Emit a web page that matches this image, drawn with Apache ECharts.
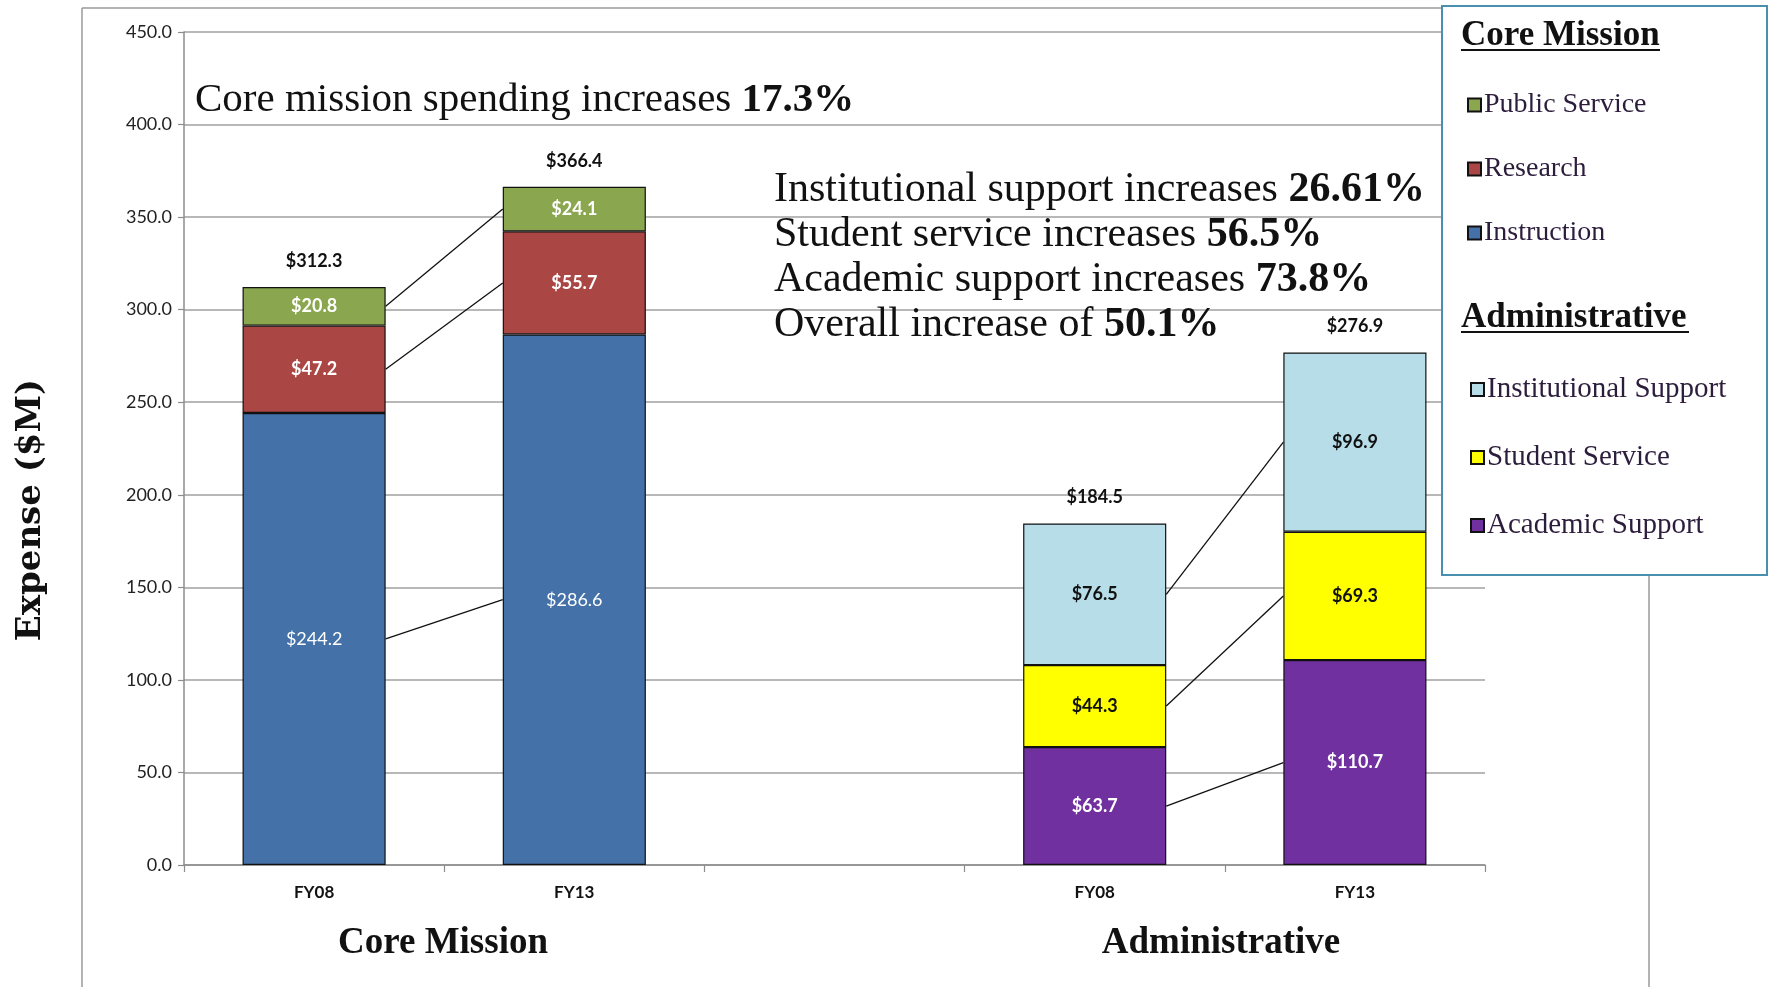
<!DOCTYPE html>
<html>
<head>
<meta charset="utf-8">
<script src="https://cdn.jsdelivr.net/npm/echarts@6/dist/echarts.min.js"></script>
<style>
html,body{margin:0;padding:0;background:#fff;}
#chart{width:1769px;height:987px;}
</style>
</head>
<body>
<div id="chart"></div>
<script>
// ---- data ----
var categories = ['FY08', 'FY13', '', 'FY08', 'FY13'];
var instruction = [244.2, 286.6, null, null, null];
var research = [47.2, 55.7, null, null, null];
var publicService = [20.8, 24.1, null, null, null];
var academicSupport = [null, null, null, 63.7, 110.7];
var studentService = [null, null, null, 44.3, 69.3];
var institutionalSupport = [null, null, null, 76.5, 96.9];
var totals = [312.3, 366.4, null, 184.5, 276.9];
var yTicks = { min: 0, max: 450, interval: 50 };

var BAR_RATIO = 0.55;
var labelFont = 'Lato, "Open Sans", sans-serif';
var serif = '"Liberation Serif", "DejaVu Serif", serif';

function fmt(v) { return '$' + Number(v).toFixed(1); }

function barSeries(name, data, color, labelColor, bold) {
  return {
    name: name, type: 'bar', stack: 'all', data: data,
    barWidth: (BAR_RATIO * 100) + '%',
    itemStyle: { color: color, borderColor: '#111', borderWidth: 1.2 },
    label: {
      show: true, position: 'inside', color: labelColor,
      fontFamily: labelFont, fontSize: 18, fontWeight: bold ? 'bold' : 'normal',
      formatter: function (p) { return p.value == null ? '' : fmt(p.value); }
    },
    z: 2
  };
}

// connector lines between FY08 and FY13 segment midpoints
function mids(lists) {
  var out = [];
  var base = [0, 0, 0, 0, 0];
  lists.forEach(function (arr) {
    var m = arr.map(function (v, i) { return v == null ? null : base[i] + v / 2; });
    arr.forEach(function (v, i) { if (v != null) base[i] += v; });
    out.push(m);
  });
  return out;
}
var coreMids = mids([instruction, research, publicService]);
var adminMids = mids([academicSupport, studentService, institutionalSupport]);
var connectors = [];
coreMids.forEach(function (m) { connectors.push([0, m[0], 1, m[1]]); });
adminMids.forEach(function (m) { connectors.push([3, m[3], 4, m[4]]); });

var totalData = [];
totals.forEach(function (v, i) { if (v != null) totalData.push([i, v]); });

var chart = echarts.init(document.getElementById('chart'), null, { renderer: 'canvas' });

function legendText(x, y, txt) {
  return { type: 'text', x: x, y: y, z: 10,
    style: { text: txt, font: 'bold 35px ' + serif, fill: '#111', align: 'left', verticalAlign: 'middle', textAlign: 'left', textVerticalAlign: 'middle' } };
}
function annot(x, y, a, b, size) {
  return { type: 'text', x: x, y: y, z: 10,
    style: {
      text: '{a|' + a + '}{b|' + b + '}',
      align: 'left', verticalAlign: 'middle', textAlign: 'left', textVerticalAlign: 'middle',
      rich: {
        a: { fontFamily: serif, fontSize: size, fontWeight: 'normal', fill: '#111', color: '#111' },
        b: { fontFamily: serif, fontSize: size, fontWeight: 'bold', fill: '#111', color: '#111' }
      }
    } };
}

var option = {
  animation: false,
  backgroundColor: '#fff',
  grid: { left: 184, right: 284, top: 32, bottom: 122, containLabel: false },
  xAxis: {
    type: 'category', data: categories,
    axisLine: { lineStyle: { color: '#8c8c8c', width: 1.5 } },
    axisTick: { show: true, length: 7, lineStyle: { color: '#8c8c8c', width: 1.2 } },
    axisLabel: { color: '#111', fontFamily: labelFont, fontSize: 17, fontWeight: 'bold', margin: 19 },
    splitLine: { show: false }
  },
  yAxis: {
    type: 'value', min: yTicks.min, max: yTicks.max, interval: yTicks.interval,
    axisLine: { show: true, lineStyle: { color: '#8c8c8c', width: 1.5 } },
    axisTick: { show: true, length: 6, lineStyle: { color: '#8c8c8c', width: 1.2 } },
    axisLabel: { color: '#222', fontFamily: labelFont, fontSize: 18, margin: 12,
      formatter: function (v) { return v.toFixed(1); } },
    splitLine: { show: true, lineStyle: { color: '#a0a0a0', width: 1.5 } }
  },
  legend: [
    { data: ['Public Service', 'Research', 'Instruction'], orient: 'vertical',
      left: 1462, top: 86, itemGap: 36, itemWidth: 13, itemHeight: 13, icon: 'rect',
      selectedMode: false, z: 12,
      textStyle: { fontFamily: serif, fontSize: 28, color: '#2d1d3d', padding: [0, 0, 0, -2] } },
    { data: ['Institutional Support', 'Student Service', 'Academic Support'], orient: 'vertical',
      left: 1465, top: 370, itemGap: 39, itemWidth: 13, itemHeight: 13, icon: 'rect',
      selectedMode: false, z: 12,
      textStyle: { fontFamily: serif, fontSize: 29, color: '#2d1d3d', padding: [0, 0, 0, -2] } }
  ],
  graphic: [
    // frame lines
    { type: 'line', z: 1, shape: { x1: 82, y1: 8, x2: 82, y2: 987 }, style: { stroke: '#9a9a9a', lineWidth: 1.5 } },
    { type: 'line', z: 1, shape: { x1: 82, y1: 8, x2: 1442, y2: 8 }, style: { stroke: '#9a9a9a', lineWidth: 1.5 } },
    { type: 'line', z: 1, shape: { x1: 1649, y1: 575, x2: 1649, y2: 987 }, style: { stroke: '#9a9a9a', lineWidth: 1.5 } },
    // legend box
    { type: 'rect', z: 8, shape: { x: 1442, y: 6, width: 325, height: 569 },
      style: { fill: '#fff', stroke: '#4a8fb0', lineWidth: 2 } },
    legendText(1461, 36, 'Core Mission'),
    { type: 'line', z: 10, shape: { x1: 1461, y1: 50, x2: 1660, y2: 50 }, style: { stroke: '#111', lineWidth: 2 } },
    legendText(1461, 318, 'Administrative'),
    { type: 'line', z: 10, shape: { x1: 1461, y1: 332, x2: 1689, y2: 332 }, style: { stroke: '#111', lineWidth: 2 } },
    // annotations
    annot(195, 100, 'Core mission spending increases ', '17.3%', 41),
    annot(774, 190, 'Institutional support increases ', '26.61%', 42),
    annot(774, 235, 'Student service increases ', '56.5%', 42),
    annot(774, 280, 'Academic support increases ', '73.8%', 42),
    annot(774, 325, 'Overall increase of ', '50.1%', 42),
    // axis title
    { type: 'text', x: 31, y: 510, rotation: Math.PI / 2, z: 10,
      style: { text: 'Expense ($M)', font: 'bold 34px "DejaVu Serif", serif', fill: '#111',
        align: 'center', verticalAlign: 'middle', textAlign: 'center', textVerticalAlign: 'middle' } },
    // group labels
    { type: 'text', x: 443, y: 943, z: 10,
      style: { text: 'Core Mission', font: 'bold 37px ' + serif, fill: '#111',
        align: 'center', verticalAlign: 'middle', textAlign: 'center', textVerticalAlign: 'middle' } },
    { type: 'text', x: 1221, y: 943, z: 10,
      style: { text: 'Administrative', font: 'bold 37px ' + serif, fill: '#111',
        align: 'center', verticalAlign: 'middle', textAlign: 'center', textVerticalAlign: 'middle' } }
  ],
  series: [
    barSeries('Instruction', instruction, '#4472A8', '#ffffff', false),
    barSeries('Research', research, '#AA4643', '#ffffff', true),
    barSeries('Public Service', publicService, '#8AA64F', '#ffffff', true),
    barSeries('Academic Support', academicSupport, '#7030A0', '#ffffff', true),
    barSeries('Student Service', studentService, '#FFFF00', '#111111', true),
    barSeries('Institutional Support', institutionalSupport, '#B7DDE8', '#111111', true),
    {
      name: 'totals', type: 'custom', data: totalData, z: 3,
      encode: { x: 0, y: 1 },
      renderItem: function (params, api) {
        var p = api.coord([api.value(0), api.value(1)]);
        return { type: 'text', x: p[0], y: p[1] - 26,
          style: { text: fmt(api.value(1)), font: 'bold 18px ' + labelFont, fill: '#111',
            align: 'center', verticalAlign: 'middle', textAlign: 'center', textVerticalAlign: 'middle' } };
      }
    },
    {
      name: 'connectors', type: 'custom', data: connectors, z: 3,
      encode: { x: [0, 2], y: [1, 3] },
      renderItem: function (params, api) {
        var p0 = api.coord([api.value(0), api.value(1)]);
        var p1 = api.coord([api.value(2), api.value(3)]);
        var half = api.size([1, 0])[0] * BAR_RATIO / 2;
        return { type: 'line',
          shape: { x1: p0[0] + half, y1: p0[1], x2: p1[0] - half, y2: p1[1] },
          style: { stroke: '#111', lineWidth: 1.3 } };
      }
    }
  ]
};
chart.setOption(option);
</script>
</body>
</html>
